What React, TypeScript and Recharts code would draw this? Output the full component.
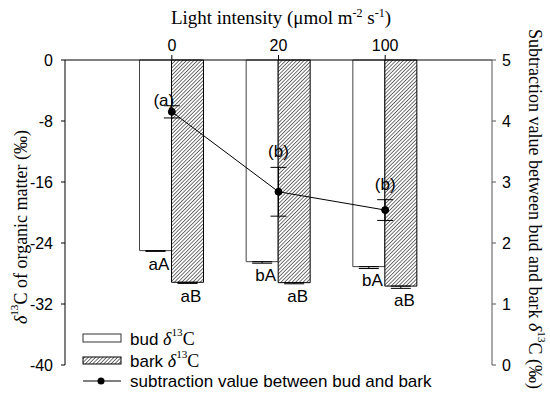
import React from 'react';
import { ComposedChart, Bar, Line, XAxis, YAxis, ErrorBar, LabelList } from 'recharts';

const lightIntensity = ['0', '20', '100'];
const budDelta = [-25.0, -26.45, -27.1];
const budError = [0.1, 0.2, 0.25];
const budLetters = ['aA', 'bA', 'bA'];
const barkDelta = [-29.15, -29.2, -29.65];
const barkError = [0.15, 0.15, 0.3];
const barkLetters = ['aB', 'aB', 'aB'];
const subtraction = [4.15, 2.84, 2.54];
const subtractionError = [0.1, 0.4, 0.17];
const subtractionLetters = ['(a)', '(b)', '(b)'];
const leftTicks = [-40, -32, -24, -16, -8, 0];
const rightTicks = [0, 1, 2, 3, 4, 5];

const data = lightIntensity.map((light, i) => ({
  light,
  bud: budDelta[i],
  budErr: [budError[i], 0],
  budLetter: budLetters[i],
  bark: barkDelta[i],
  barkErr: [barkError[i], 0],
  barkLetter: barkLetters[i],
  diff: subtraction[i],
  diffErr: subtractionError[i],
  diffLetter: subtractionLetters[i],
}));

const SANS = '"Liberation Sans", Arial, sans-serif';
const SERIF = '"Liberation Serif", "Times New Roman", serif';

const lineLabelOffsets = [
  [-8, -11],
  [0, -40],
  [0, -26],
];

const BarLetter = (props: any) => {
  const { x, y, width, height, value } = props;
  const bottom = Math.max(Number(y), Number(y) + Number(height));
  return (
    <text
      x={Number(x) + Number(width) / 2 + 3.5}
      y={bottom + 14}
      textAnchor="middle"
      dominantBaseline="central"
      fontFamily={SANS}
      fontSize={17}
      fill="#000"
    >
      {value}
    </text>
  );
};

const DiffLetter = (props: any) => {
  const { x, y, value, index } = props;
  const off = lineLabelOffsets[index] || [0, -20];
  return (
    <text
      x={Number(x) + off[0]}
      y={Number(y) + off[1]}
      textAnchor="middle"
      dominantBaseline="central"
      fontFamily={SANS}
      fontSize={17}
      fill="#000"
    >
      {value}
    </text>
  );
};

const Delta13C = ({ size }: { size: number }) => (
  <>
    <tspan fontFamily={SERIF} fontStyle="italic" fontSize={size}>δ</tspan>
    <tspan fontFamily={SERIF} fontSize={size * 0.62} dy={-size * 0.38}>13</tspan>
    <tspan fontFamily={SERIF} fontSize={size} dy={size * 0.38}>C</tspan>
  </>
);

export default function App() {
  return (
    <div style={{ position: 'absolute', left: 0, top: 0, width: 550, height: 405, background: '#fff' }}>
      <ComposedChart
        width={550}
        height={405}
        data={data}
        margin={{ top: 30, right: 18, bottom: 40, left: 25 }}
        barGap={0}
      >
        <defs>
          <pattern id="hatch" patternUnits="userSpaceOnUse" width="2.6" height="2.6" patternTransform="rotate(45)">
            <rect width="2.6" height="2.6" fill="#fff" />
            <line x1="0" y1="0" x2="0" y2="2.6" stroke="#000" strokeWidth="1.1" />
          </pattern>
        </defs>
        <XAxis
          dataKey="light"
          orientation="top"
          height={30}
          padding={{ left: 53.5, right: 53.5 }}
          axisLine={{ stroke: '#000' }}
          tickLine={{ stroke: '#000' }}
          tickSize={5}
          tickMargin={4}
          tick={{ fontFamily: SANS, fontSize: 16, fill: '#000' }}
        />
        <YAxis
          yAxisId="left"
          domain={[-40, 0]}
          ticks={leftTicks}
          width={40}
          axisLine={{ stroke: '#000' }}
          tickLine={{ stroke: '#000' }}
          tickSize={4}
          tickMargin={8}
          tick={{ fontFamily: SANS, fontSize: 16, fill: '#000' }}
        />
        <YAxis
          yAxisId="right"
          orientation="right"
          domain={[0, 5]}
          ticks={rightTicks}
          width={40}
          axisLine={{ stroke: '#555' }}
          tickLine={{ stroke: '#555' }}
          tickSize={4}
          tickMargin={6}
          tick={{ fontFamily: SANS, fontSize: 16, fill: '#000' }}
        />
        <Bar yAxisId="left" dataKey="bud" barSize={32} fill="#fff" stroke="#444" strokeWidth={1} isAnimationActive={false}>
          <ErrorBar dataKey="budErr" width={10} stroke="#000" strokeWidth={1} direction="y" />
          <LabelList dataKey="budLetter" content={BarLetter} />
        </Bar>
        <Bar yAxisId="left" dataKey="bark" barSize={32} fill="url(#hatch)" stroke="#000" strokeWidth={1} isAnimationActive={false}>
          <ErrorBar dataKey="barkErr" width={10} stroke="#000" strokeWidth={1} direction="y" />
          <LabelList dataKey="barkLetter" content={BarLetter} />
        </Bar>
        <Line
          yAxisId="right"
          dataKey="diff"
          stroke="#000"
          strokeWidth={1}
          dot={{ r: 3.5, fill: '#000', stroke: '#000', strokeWidth: 1 }}
          isAnimationActive={false}
        >
          <ErrorBar dataKey="diffErr" width={8} stroke="#000" strokeWidth={1} direction="y" />
          <LabelList dataKey="diffLetter" content={DiffLetter} />
        </Line>
      </ComposedChart>
      <svg
        width={550}
        height={405}
        style={{ position: 'absolute', left: 0, top: 0, pointerEvents: 'none' }}
      >
        <defs>
          <pattern id="hatchLegend" patternUnits="userSpaceOnUse" width="2.6" height="2.6" patternTransform="rotate(45)">
            <rect width="2.6" height="2.6" fill="#fff" />
            <line x1="0" y1="0" x2="0" y2="2.6" stroke="#000" strokeWidth="1.1" />
          </pattern>
        </defs>
        {/* title */}
        <text x={281} y={24} textAnchor="middle" fontFamily={SERIF} fontSize={19} fill="#000">
          <tspan>Light intensity (μmol m</tspan>
          <tspan fontSize={12} dy={-7}>-2</tspan>
          <tspan dy={7}> s</tspan>
          <tspan fontSize={12} dy={-7}>-1</tspan>
          <tspan dy={7}>)</tspan>
        </text>
        {/* left axis label */}
        <text
          x={21}
          y={227}
          transform="rotate(-90 21 227)"
          textAnchor="middle"
          dominantBaseline="central"
          fontFamily={SERIF}
          fontSize={18}
          fill="#000"
        >
          <Delta13C size={18} />
          <tspan> of organic matter (‰)</tspan>
        </text>
        {/* right axis label */}
        <text
          x={535}
          y={209}
          transform="rotate(90 535 209)"
          textAnchor="middle"
          dominantBaseline="central"
          fontFamily={SERIF}
          fontSize={18}
          fill="#000"
        >
          <tspan>Subtraction value between bud and bark </tspan>
          <Delta13C size={18} />
          <tspan> (‰)</tspan>
        </text>
        {/* legend */}
        <rect x={83} y={334} width={38} height={8} fill="#fff" stroke="#333" strokeWidth={1} />
        <text x={130} y={339} dominantBaseline="central" fontFamily={SANS} fontSize={17} fill="#000">
          <tspan>bud </tspan>
          <Delta13C size={18} />
        </text>
        <rect x={83} y={357} width={38} height={7} fill="url(#hatchLegend)" stroke="#000" strokeWidth={1} />
        <text x={130} y={361} dominantBaseline="central" fontFamily={SANS} fontSize={17} fill="#000">
          <tspan>bark </tspan>
          <Delta13C size={18} />
        </text>
        <line x1={83} y1={381} x2={121} y2={381} stroke="#000" strokeWidth={1} />
        <circle cx={101} cy={381} r={3.5} fill="#000" />
        <text x={130} y={381} dominantBaseline="central" fontFamily={SANS} fontSize={17} fill="#000">
          subtraction value between bud and bark
        </text>
      </svg>
    </div>
  );
}
